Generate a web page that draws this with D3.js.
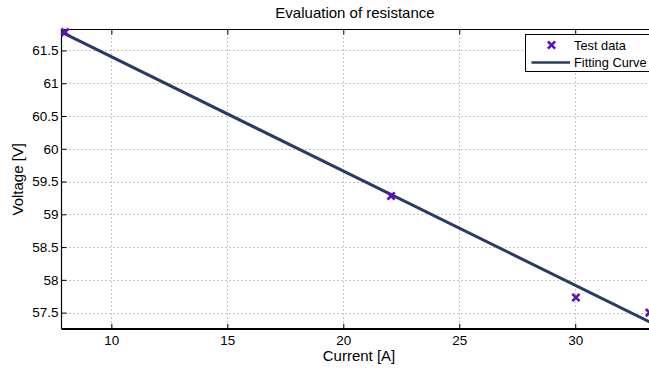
<!DOCTYPE html>
<html>
<head>
<meta charset="utf-8">
<script src="https://cdn.jsdelivr.net/npm/d3@7"></script>
<style>
  html, body { margin: 0; padding: 0; background: #fff; }
  svg { display: block; font-family: "Liberation Sans", Arial, Helvetica, sans-serif; }
</style>
</head>
<body>
<svg id="chart" width="649" height="370"></svg>
<script>
// Measured current / voltage pairs
const currentA = [8.0, 22.06, 30.03, 33.2];
const voltageV = [61.78, 59.28, 57.73, 57.5];

// Least-squares line, given by its two end points
const fitCurrent = [7.85, 33.25];
const fitVoltage = [61.78, 57.35];

// Axis limits and tick values
const xDomain = [7.85, 33.25];
const yDomain = [57.25, 61.82];
const xTicks = [10, 15, 20, 25, 30];
const yTicks = [57.5, 58, 58.5, 59, 59.5, 60, 60.5, 61, 61.5];

const titleText = "Evaluation of resistance";
const xLabel = "Current [A]";
const yLabel = "Voltage [V]";
const legendLabels = ["Test data", "Fitting Curve"];

const markerColor = "#5b0fbf";
const lineColor = "#273a68";

const svg = d3.select("#chart");
const plotLeft = 61.5, plotRight = 650.6, plotTop = 29.5, plotBottom = 329;

const x = d3.scaleLinear().domain(xDomain).range([plotLeft, plotRight]);
const y = d3.scaleLinear().domain(yDomain).range([plotBottom, plotTop]);
const fmt = d => String(d);

// Dotted grid
const grid = svg.append("g").attr("stroke", "#8a8a8a").attr("stroke-width", 1)
  .attr("stroke-dasharray", "1,3").attr("fill", "none");
grid.selectAll("line.gx").data(xTicks).join("line").attr("class", "gx")
  .attr("x1", d => Math.round(x(d)) + 0.5).attr("x2", d => Math.round(x(d)) + 0.5)
  .attr("y1", plotTop).attr("y2", plotBottom);
grid.selectAll("line.gy").data(yTicks).join("line").attr("class", "gy")
  .attr("y1", d => Math.round(y(d)) + 0.5).attr("y2", d => Math.round(y(d)) + 0.5)
  .attr("x1", plotLeft).attr("x2", plotRight);

// Axes with inward ticks
const xAxis = d3.axisBottom(x).tickValues(xTicks).tickFormat(fmt).tickSizeInner(-5).tickSizeOuter(0).tickPadding(6);
const yAxis = d3.axisLeft(y).tickValues(yTicks).tickFormat(fmt).tickSizeInner(-5).tickSizeOuter(0).tickPadding(3);
const xTopAxis = d3.axisTop(x).tickValues(xTicks).tickFormat("").tickSizeInner(-5).tickSizeOuter(0);

const gx = svg.append("g").attr("transform", `translate(0,${plotBottom})`).call(xAxis);
const gy = svg.append("g").attr("transform", `translate(${plotLeft},0)`).call(yAxis);
const gt = svg.append("g").attr("transform", `translate(0,${plotTop})`).call(xTopAxis);
[gx, gy, gt].forEach(g => {
  g.select(".domain").remove();
  g.selectAll(".tick line").attr("stroke", "#000").attr("stroke-width", 1);
  g.selectAll(".tick text").attr("fill", "#000").style("font-size", "13.5px")
    .style("font-family", "Liberation Sans, Arial, sans-serif");
});

// Frame
svg.append("line").attr("x1", plotLeft).attr("x2", plotRight).attr("y1", plotTop).attr("y2", plotTop)
  .attr("stroke", "#000").attr("stroke-width", 1);
svg.append("line").attr("x1", plotLeft).attr("x2", plotLeft).attr("y1", plotTop).attr("y2", plotBottom)
  .attr("stroke", "#000").attr("stroke-width", 1.2);
svg.append("line").attr("x1", plotLeft).attr("x2", plotRight).attr("y1", plotBottom).attr("y2", plotBottom)
  .attr("stroke", "#000").attr("stroke-width", 2);

// Fitting curve
const fitData = fitCurrent.map((c, i) => [c, fitVoltage[i]]);
svg.append("path").datum(fitData)
  .attr("d", d3.line().x(d => x(d[0])).y(d => y(d[1])))
  .attr("fill", "none").attr("stroke", lineColor).attr("stroke-width", 3);

// Test data markers
const cross = (g, s) => {
  g.append("line").attr("x1", -s).attr("y1", -s).attr("x2", s).attr("y2", s);
  g.append("line").attr("x1", -s).attr("y1", s).attr("x2", s).attr("y2", -s);
};
const pts = currentA.map((c, i) => [c, voltageV[i]]);
svg.selectAll("g.pt").data(pts).join("g").attr("class", "pt")
  .attr("transform", d => `translate(${x(d[0])},${y(d[1])})`)
  .attr("stroke", markerColor).attr("stroke-width", 2.6)
  .each(function() { cross(d3.select(this), 3.6); });

// Legend
const lg = svg.append("g");
lg.append("rect").attr("x", 525.5).attr("y", 34.5).attr("width", 140).attr("height", 37)
  .attr("fill", "#fff").attr("stroke", "#000").attr("stroke-width", 1);
const m = lg.append("g").attr("transform", "translate(551.5,45)")
  .attr("stroke", markerColor).attr("stroke-width", 2.6);
cross(m, 3.6);
lg.append("line").attr("x1", 531.5).attr("x2", 570).attr("y1", 62.5).attr("y2", 62.5)
  .attr("stroke", lineColor).attr("stroke-width", 2.5);
lg.selectAll("text").data(legendLabels).join("text")
  .attr("x", 574).attr("y", (d, i) => 49.7 + i * 17.6)
  .style("font-size", "12.8px").attr("fill", "#000").text(d => d);

// Title and axis labels
svg.append("text").attr("x", 355).attr("y", 17.5).attr("text-anchor", "middle")
  .style("font-size", "15px").text(titleText);
svg.append("text").attr("x", 359).attr("y", 360.5).attr("text-anchor", "middle")
  .style("font-size", "15px").text(xLabel);
svg.append("text").attr("transform", `translate(22.5,${(plotTop + plotBottom) / 2}) rotate(-90)`)
  .attr("text-anchor", "middle").style("font-size", "15px").text(yLabel);
</script>
</body>
</html>
